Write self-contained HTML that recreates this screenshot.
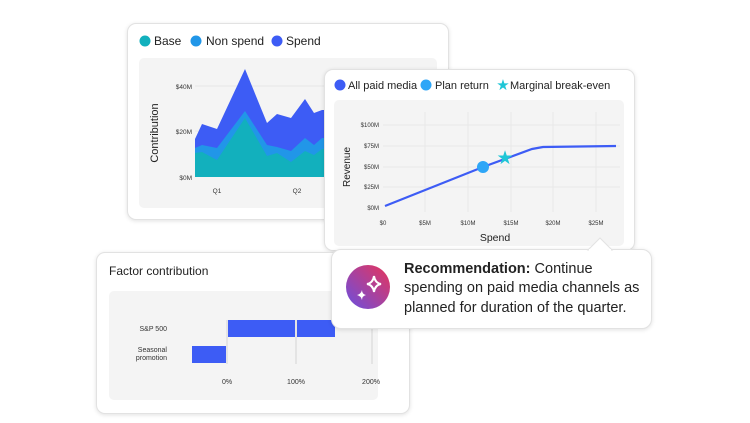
<!DOCTYPE html>
<html><head><meta charset="utf-8"><style>
body{margin:0;width:750px;height:423px;background:#fff;position:relative;overflow:hidden;font-family:"Liberation Sans",sans-serif;color:#222}
.card{position:absolute;background:#fff;border:1px solid #e2e2e2;border-radius:9px;box-shadow:0 1px 4px rgba(0,0,0,.12)}
.panel{position:absolute;background:#f4f4f4;border-radius:5px}
svg{position:absolute;left:0;top:0;overflow:visible}
</style></head><body>
<div class="card" style="left:127px;top:23px;width:320px;height:195px"></div>
<div class="panel" style="left:139px;top:58px;width:298px;height:150px"></div>
<svg width="750" height="423" style="font-family:'Liberation Sans',sans-serif">
<g font-size="12" fill="#222">
<circle cx="145" cy="41" r="5.5" fill="#12b0bd"/><text x="154" y="45">Base</text>
<circle cx="196" cy="41" r="5.5" fill="#2196e8"/><text x="206" y="45">Non spend</text>
<circle cx="277" cy="41" r="5.5" fill="#3d5cf5"/><text x="286" y="45">Spend</text>
</g>
<g stroke="#e6e6e6"><line x1="195" y1="86" x2="330" y2="86"/><line x1="195" y1="131" x2="330" y2="131"/></g>
<polygon fill="#3d5cf5" points="195,177 195,139 202,124 217,129 245,69 267,123 277,114 291,118 305,99 314,113 322,110 330,110 330,177"/>
<polygon fill="#2196e8" points="195,177 195,148 202,145 217,148 245,111 267,145 277,147 291,151 305,138 314,145 322,138 330,138 330,177"/>
<polygon fill="#12b0bd" points="195,177 195,153 202,152 217,160 245,118 267,156 277,153 291,162 305,151 314,155 322,149 330,149 330,177"/>
<g font-size="6.5" fill="#333" text-anchor="end"><text x="192" y="89">$40M</text><text x="192" y="134">$20M</text><text x="192" y="180">$0M</text></g>
<g font-size="6.5" fill="#333" text-anchor="middle"><text x="217" y="193">Q1</text><text x="297" y="193">Q2</text></g>
<text transform="translate(158,133) rotate(-90)" font-size="11" text-anchor="middle" fill="#222">Contribution</text>
</svg>

<div class="card" style="left:324px;top:69px;width:309px;height:180px"></div>
<div class="panel" style="left:334px;top:100px;width:290px;height:146px"></div>
<svg width="750" height="423" style="font-family:'Liberation Sans',sans-serif">
<g font-size="11" fill="#222">
<circle cx="340" cy="85" r="5.5" fill="#3d5cf5"/><text x="348" y="89">All paid media</text>
<circle cx="426" cy="85" r="5.5" fill="#2ea6f7"/><text x="435" y="89">Plan return</text>
<text x="503" y="90" font-size="15" fill="#1fc6d6" text-anchor="middle">★</text><text x="510" y="89">Marginal break-even</text>
</g>
<g stroke="#e8e8e8">
<line x1="383" y1="125" x2="620" y2="125"/><line x1="383" y1="146" x2="620" y2="146"/><line x1="383" y1="167" x2="620" y2="167"/><line x1="383" y1="187" x2="620" y2="187"/>
<line x1="425" y1="112" x2="425" y2="212"/><line x1="468" y1="112" x2="468" y2="212"/><line x1="511" y1="112" x2="511" y2="212"/><line x1="553" y1="112" x2="553" y2="212"/><line x1="596" y1="112" x2="596" y2="212"/>
</g>
<g font-size="6" fill="#333" text-anchor="end"><text x="379" y="127">$100M</text><text x="379" y="148">$75M</text><text x="379" y="169">$50M</text><text x="379" y="189">$25M</text><text x="379" y="210">$0M</text></g>
<g font-size="6" fill="#333" text-anchor="middle"><text x="383" y="225">$0</text><text x="425" y="225">$5M</text><text x="468" y="225">$10M</text><text x="511" y="225">$15M</text><text x="553" y="225">$20M</text><text x="596" y="225">$25M</text></g>
<text x="495" y="241" font-size="10.5" text-anchor="middle" fill="#222">Spend</text>
<text transform="translate(350,167) rotate(-90)" font-size="10" text-anchor="middle" fill="#222">Revenue</text>
<polyline fill="none" stroke="#3d5cf5" stroke-width="2.2" points="385,206 483,167 532,149 543,147 616,146"/>
<circle cx="483" cy="167" r="6" fill="#2ea6f7"/>
<text x="505" y="164" font-size="19" fill="#1fc6d6" text-anchor="middle">★</text>
</svg>

<div class="card" style="left:96px;top:252px;width:312px;height:160px"></div>
<div class="panel" style="left:109px;top:291px;width:269px;height:109px"></div>
<svg width="750" height="423" style="font-family:'Liberation Sans',sans-serif">
<text x="109" y="275" font-size="12" fill="#222">Factor contribution</text>
<g stroke="#d4d4d4"><line x1="227" y1="320" x2="227" y2="364"/><line x1="296" y1="320" x2="296" y2="364"/><line x1="372" y1="320" x2="372" y2="364"/></g>
<rect x="228" y="320" width="67" height="17" fill="#3d5cf5"/><rect x="297" y="320" width="38" height="17" fill="#3d5cf5"/>
<rect x="192" y="346" width="34" height="17" fill="#3d5cf5"/>
<g font-size="7" fill="#333" text-anchor="end"><text x="167" y="331">S&amp;P 500</text><text x="167" y="352">Seasonal</text><text x="167" y="360">promotion</text></g>
<g font-size="7" fill="#333" text-anchor="middle"><text x="227" y="384">0%</text><text x="296" y="384">100%</text><text x="371" y="384">200%</text></g>
</svg>

<div class="card" style="left:331px;top:249px;width:319px;height:78px;border-radius:10px"></div>
<svg width="750" height="423" style="font-family:'Liberation Sans',sans-serif">
<polygon points="588,250 600,238 612,250" fill="#fff" stroke="#e2e2e2"/><line x1="589" y1="250" x2="611" y2="250" stroke="#fff" stroke-width="2"/>
<defs><linearGradient id="g" x1="0" y1="1" x2="1" y2="0"><stop offset="0" stop-color="#6a4fe0"/><stop offset="1" stop-color="#e8345a"/></linearGradient></defs>
<circle cx="368" cy="287" r="22" fill="url(#g)"/>
<path d="M374,276 Q375,283 381,284 Q375,285 374,292 Q373,285 367,284 Q373,283 374,276Z" fill="none" stroke="#fff" stroke-width="2"/>
<path d="M362,290 Q362,294 366,295 Q362,296 362,300 Q361,296 357,295 Q361,294 362,290Z" fill="#fff"/>
<g font-size="14.5" fill="#222"><text x="404" y="273"><tspan font-weight="bold">Recommendation:</tspan> Continue</text><text x="404" y="292">spending on paid media channels as</text><text x="404" y="312">planned for duration of the quarter.</text></g>
</svg>
</body></html>
